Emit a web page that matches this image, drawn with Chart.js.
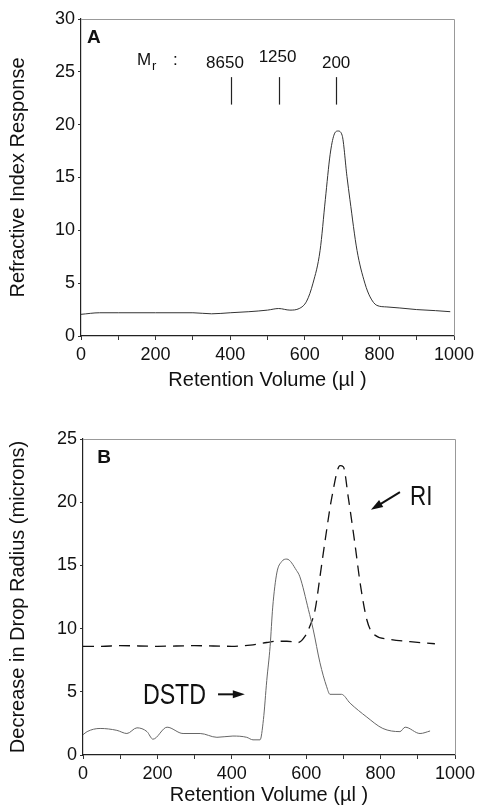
<!DOCTYPE html>
<html>
<head>
<meta charset="utf-8">
<script src="https://cdn.jsdelivr.net/npm/chart.js@4.4.0/dist/chart.umd.min.js"></script>
<style>
  html, body { margin: 0; padding: 0; background: #fff; }
  #wrapA { position: absolute; left: 0; top: 0; width: 481px; height: 400px; }
  #wrapB { position: absolute; left: 0; top: 400px; width: 481px; height: 409px; }
</style>
</head>
<body>
<div id="wrapA"><canvas id="chartA"></canvas></div>
<div id="wrapB"><canvas id="chartB"></canvas></div>
<script>
// Panel A: refractive index trace
var volumeA = [0, 50, 100, 200, 300, 350, 400, 450, 500, 530, 560, 585, 605, 622, 641, 655, 668, 678, 689, 700, 713, 721, 740, 761, 775, 793, 820, 855, 900, 950, 990];
var riA = [2.05, 2.2, 2.2, 2.2, 2.2, 2.1, 2.2, 2.3, 2.45, 2.6, 2.45, 2.6, 3.3, 5.0, 8.1, 12.9, 17.2, 19.0, 19.4, 19.0, 15.1, 12.9, 8.1, 5.0, 3.7, 2.9, 2.75, 2.65, 2.5, 2.4, 2.3];
var markerVolumes = [402, 531, 684];
var markerLabels = ['8650', '1250', '200'];

// Panel B: drop size (DSTD) and RI traces
var volumeRI = [0, 50, 100, 200, 300, 400, 450, 494, 519, 548, 579, 597, 610, 624, 637, 651, 669, 691, 700, 713, 731, 745, 763, 780, 825, 879, 946];
var riB = [8.6, 8.6, 8.65, 8.6, 8.65, 8.6, 8.7, 8.9, 9.0, 9.0, 8.9, 9.4, 10.2, 11.5, 14.1, 17.0, 20.4, 22.9, 22.8, 20.4, 16.7, 13.6, 10.7, 9.6, 9.15, 8.97, 8.8];
var volumeDSTD = [0, 11, 46, 91, 118, 145, 172, 188, 226, 269, 315, 360, 403, 440, 457, 476, 485, 494, 503, 510, 521, 534, 548, 574, 583, 606, 619, 637, 655, 664, 695, 718, 763, 806, 852, 866, 906, 933];
var dstd = [1.6, 1.85, 2.1, 1.95, 1.7, 2.15, 1.85, 1.25, 2.2, 1.7, 1.7, 1.4, 1.5, 1.4, 1.2, 1.2, 2.8, 5.9, 8.6, 11.7, 14.4, 15.3, 15.5, 14.6, 14.1, 11.5, 9.9, 7.3, 5.4, 4.8, 4.8, 4.1, 3.0, 2.1, 1.85, 2.2, 1.7, 1.9];

var xTicks = [0, 200, 400, 600, 800, 1000];

var tickFont = { family: 'Liberation Sans', size: 18 };
var titleFont = { family: 'Liberation Sans', size: 20 };

function toPoints(xs, ys) {
  return xs.map(function (x, i) { return { x: x, y: ys[i] }; });
}

// narrow text: regular face squeezed sideways
function narrowText(ctx, text, x, y, size) {
  ctx.save();
  ctx.font = size + 'px "Liberation Sans"';
  ctx.translate(x, y);
  ctx.scale(0.8, 1);
  ctx.fillText(text, 0, 0);
  ctx.restore();
}

// frame, markers, labels and arrows
var decorations = {
  id: 'decorations',
  afterDraw: function (chart, args, opts) {
    var ctx = chart.ctx, a = chart.chartArea;
    var xs = chart.scales.x, ys = chart.scales.y;
    ctx.save();
    ctx.strokeStyle = '#999';
    ctx.lineWidth = 1;
    ctx.beginPath();
    ctx.moveTo(a.left, a.top + 0.5);
    ctx.lineTo(a.right + 0.5, a.top + 0.5);
    ctx.lineTo(a.right + 0.5, a.bottom);
    ctx.stroke();

    ctx.fillStyle = '#111';
    ctx.font = 'bold 19px "Liberation Sans"';
    ctx.textBaseline = 'alphabetic';
    ctx.fillText(opts.panel, xs.getPixelForValue(opts.panelAt[0]), ys.getPixelForValue(opts.panelAt[1]));

    if (opts.panel === 'A') {
      ctx.strokeStyle = '#222';
      ctx.lineWidth = 1.2;
      markerVolumes.forEach(function (v) {
        var px = Math.round(xs.getPixelForValue(v)) + 0.5;
        ctx.beginPath();
        ctx.moveTo(px, ys.getPixelForValue(24.5));
        ctx.lineTo(px, ys.getPixelForValue(21.9));
        ctx.stroke();
      });
      ctx.font = '17px "Liberation Sans"';
      ctx.textAlign = 'center';
      var labelX = [386, 527, 684];
      var labelY = [25.4, 25.9, 25.4];
      markerLabels.forEach(function (t, i) {
        ctx.fillText(t, xs.getPixelForValue(labelX[i]), ys.getPixelForValue(labelY[i]));
      });
      ctx.textAlign = 'left';
      var mx = xs.getPixelForValue(150), my = ys.getPixelForValue(25.6);
      ctx.fillText('M', mx, my);
      ctx.font = '13px "Liberation Sans"';
      ctx.fillText('r', mx + 15, my + 5);
      ctx.font = '17px "Liberation Sans"';
      ctx.fillText(':', mx + 36, my);
    } else {
      narrowText(ctx, 'RI', xs.getPixelForValue(879), ys.getPixelForValue(19.8), 28);
      narrowText(ctx, 'DSTD', xs.getPixelForValue(161), ys.getPixelForValue(4.0), 29);
      arrow(ctx, xs.getPixelForValue(852), ys.getPixelForValue(20.8), xs.getPixelForValue(774), ys.getPixelForValue(19.4));
      arrow(ctx, xs.getPixelForValue(363), ys.getPixelForValue(4.8), xs.getPixelForValue(435), ys.getPixelForValue(4.8));
    }
    ctx.restore();
  }
};

function arrow(ctx, x1, y1, x2, y2) {
  var ang = Math.atan2(y2 - y1, x2 - x1);
  var len = 12, w = 4;
  ctx.strokeStyle = '#111';
  ctx.lineWidth = 2;
  ctx.beginPath();
  ctx.moveTo(x1, y1);
  ctx.lineTo(x2 - Math.cos(ang) * len * 0.8, y2 - Math.sin(ang) * len * 0.8);
  ctx.stroke();
  ctx.beginPath();
  ctx.moveTo(x2, y2);
  ctx.lineTo(x2 - Math.cos(ang) * len + Math.sin(ang) * w, y2 - Math.sin(ang) * len - Math.cos(ang) * w);
  ctx.lineTo(x2 - Math.cos(ang) * len - Math.sin(ang) * w, y2 - Math.sin(ang) * len + Math.cos(ang) * w);
  ctx.closePath();
  ctx.fillStyle = '#111';
  ctx.fill();
}

function makeScales(yMax, yTitle, yWidth, xHeight, xTitlePad) {
  return {
    x: {
      type: 'linear', min: 0, max: 1000,
      afterFit: function (s) { s.height = xHeight; },
      afterBuildTicks: function (s) {
        var t = [];
        for (var v = 0; v <= 1000; v += 100) t.push({ value: v });
        s.ticks = t;
      },
      ticks: {
        autoSkip: false, maxRotation: 0, color: '#111', font: tickFont, padding: 4,
        callback: function (v) { return xTicks.indexOf(v) >= 0 ? String(v) : ''; }
      },
      grid: { drawOnChartArea: false, tickLength: 4, color: '#333' },
      border: { color: '#222', width: 1.2 },
      title: { display: true, text: 'Retention Volume (µl )', color: '#111', font: titleFont, padding: { top: 0, bottom: xTitlePad } }
    },
    y: {
      min: 0, max: yMax,
      afterFit: function (s) { s.width = yWidth; },
      ticks: { stepSize: 5, color: '#111', font: tickFont, padding: 3 },
      grid: { drawOnChartArea: false, tickLength: 3, color: '#333' },
      border: { color: '#222', width: 1.2 },
      title: { display: true, text: yTitle, color: '#111', font: titleFont, padding: { top: 6, bottom: 0 } }
    }
  };
}

var common = {
  responsive: true,
  maintainAspectRatio: false,
  animation: false,
  parsing: false,
  plugins: { legend: { display: false }, tooltip: { enabled: false } },
  elements: { point: { radius: 0 } }
};

new Chart(document.getElementById('chartA'), {
  type: 'line',
  data: {
    datasets: [{
      label: 'RI',
      data: toPoints(volumeA, riA),
      borderColor: '#333',
      borderWidth: 1,
      cubicInterpolationMode: 'monotone'
    }]
  },
  options: Object.assign({}, common, {
    layout: { padding: { left: 0, right: 27, top: 19, bottom: 0 } },
    scales: makeScales(30, 'Refractive Index Response', 81, 64, 8),
    plugins: Object.assign({}, common.plugins, { decorations: { panel: 'A', panelAt: [16, 27.7] } })
  }),
  plugins: [decorations]
});

new Chart(document.getElementById('chartB'), {
  type: 'line',
  data: {
    datasets: [{
      label: 'DSTD',
      data: toPoints(volumeDSTD, dstd),
      borderColor: '#666',
      borderWidth: 1,
      cubicInterpolationMode: 'monotone'
    }, {
      label: 'RI',
      data: toPoints(volumeRI, riB),
      borderColor: '#111',
      borderWidth: 1.3,
      borderDash: [11, 7],
      cubicInterpolationMode: 'monotone'
    }]
  },
  options: Object.assign({}, common, {
    layout: { padding: { left: 0, right: 26, top: 39, bottom: 0 } },
    scales: makeScales(25, 'Decrease in Drop Radius (microns)', 83, 54, 2),
    plugins: Object.assign({}, common.plugins, { decorations: { panel: 'B', panelAt: [38, 23.1] } })
  }),
  plugins: [decorations]
});
</script>
</body>
</html>
